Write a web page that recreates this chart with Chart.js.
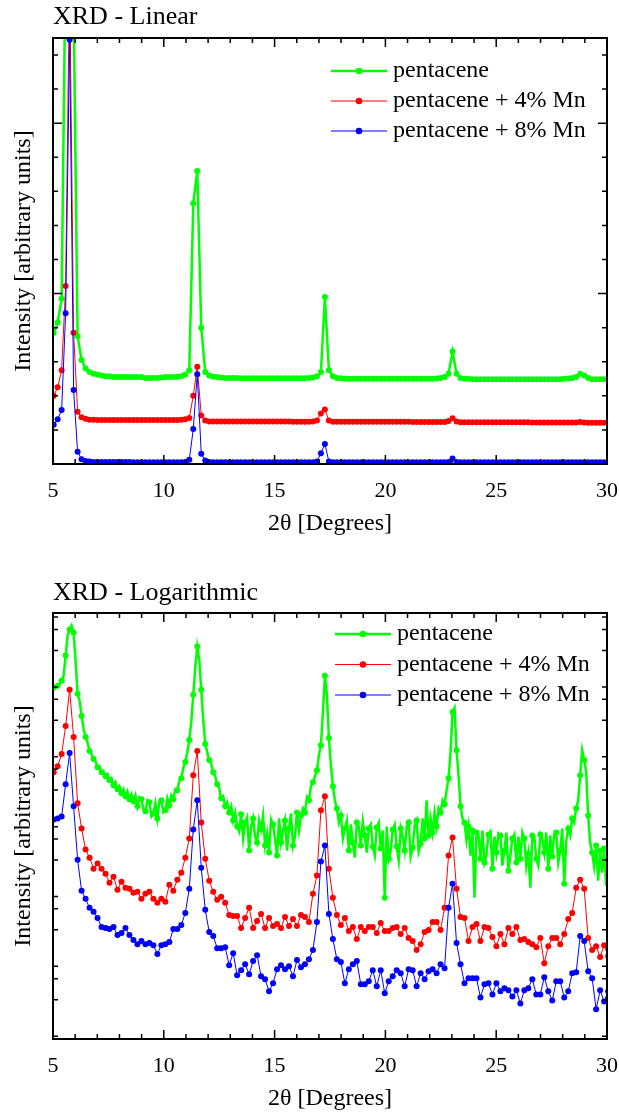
<!DOCTYPE html>
<html lang="en">
<head>
  <meta charset="UTF-8">
  <title>XRD pentacene</title>
  <style>
    html, body { margin: 0; padding: 0; background: #fff; }
    canvas { display: block; }
  </style>
</head>
<body>
  <canvas id="linear" width="619" height="575"></canvas>
  <canvas id="logarithmic" width="619" height="541"></canvas>

  <script src="https://cdn.jsdelivr.net/npm/chart.js"></script>
  <script>
    // 2theta scan grid
    const THETA_START = 5.03;
    const THETA_STEP = 0.18;       // doped scans + pentacene in the linear panel
    const THETA_STEP_FINE = 0.09;  // pentacene in the log panel

    const X_LABELS = [5, 10, 15, 20, 25, 30];
    const X_TITLE = "2θ [Degrees]";
    const Y_TITLE = "Intensity [arbitrary units]";
    const SERIES_NAMES = ["pentacene", "pentacene + 4% Mn", "pentacene + 8% Mn"];

    // linear panel (offset curves, arbitrary units)
    const greenLin = [
      7.7, 8.3, 9.7, 30, 33, 27, 7.5, 6.1, 5.6, 5.4,
      5.3, 5.25, 5.2, 5.15, 5.15, 5.1, 5.1, 5.1, 5.1, 5.1,
      5.1, 5.1, 5.1, 5.05, 5.05, 5.05, 5.05, 5.08, 5.1, 5.1,
      5.1, 5.12, 5.15, 5.25, 5.5, 15.3, 17.2, 8.0, 5.4, 5.2,
      5.12, 5.1, 5.08, 5.05, 5.05, 5.05, 5.05, 5.03, 5.03, 5.03,
      5.03, 5.03, 5.03, 5.03, 5.03, 5.03, 5.03, 5.03, 5.03, 5.03,
      5.03, 5.03, 5.03, 5.03, 5.05, 5.08, 5.15, 5.4, 9.8, 5.5,
      5.15, 5.05, 5.03, 5.0, 5.0, 5.0, 5.0, 5.0, 5.0, 5.0,
      5.0, 5.0, 5.0, 5.0, 5.0, 5.0, 5.0, 5.0, 5.0, 5.0,
      5.0, 5.0, 5.0, 5.0, 5.0, 5.0, 5.02, 5.05, 5.1, 5.3,
      6.6, 5.3, 5.05, 5.0, 5.0, 4.98, 4.98, 4.98, 4.98, 4.98,
      4.98, 4.98, 4.98, 4.98, 4.98, 4.98, 4.98, 4.98, 4.98, 4.98,
      4.98, 4.98, 4.98, 4.98, 4.98, 4.98, 4.98, 4.98, 5.0, 5.02,
      5.05, 5.1, 5.3, 5.2, 5.05, 4.98, 4.98, 4.98, 4.98, 4.98
    ];
    const redLin = [
      4.0, 4.5, 5.5, 10.45, 28.7, 7.7, 3.07, 2.74, 2.65, 2.6,
      2.6, 2.58, 2.58, 2.58, 2.58, 2.58, 2.58, 2.58, 2.58, 2.58,
      2.58, 2.58, 2.58, 2.58, 2.58, 2.58, 2.58, 2.58, 2.58, 2.58,
      2.58, 2.58, 2.6, 2.62, 2.7, 4.0, 5.7, 2.85, 2.55, 2.5,
      2.5, 2.5, 2.5, 2.5, 2.5, 2.5, 2.5, 2.5, 2.5, 2.5,
      2.5, 2.5, 2.5, 2.5, 2.5, 2.5, 2.5, 2.5, 2.5, 2.5,
      2.48, 2.48, 2.48, 2.48, 2.48, 2.5, 2.55, 2.97, 3.2, 2.55,
      2.48, 2.48, 2.48, 2.48, 2.48, 2.48, 2.48, 2.48, 2.48, 2.48,
      2.48, 2.48, 2.48, 2.48, 2.48, 2.48, 2.48, 2.48, 2.48, 2.48,
      2.46, 2.46, 2.46, 2.46, 2.46, 2.46, 2.46, 2.46, 2.46, 2.52,
      2.68, 2.5, 2.45, 2.45, 2.45, 2.45, 2.45, 2.45, 2.45, 2.45,
      2.45, 2.45, 2.45, 2.45, 2.45, 2.45, 2.45, 2.45, 2.45, 2.45,
      2.43, 2.43, 2.43, 2.43, 2.43, 2.43, 2.43, 2.43, 2.43, 2.43,
      2.43, 2.44, 2.46, 2.44, 2.42, 2.42, 2.42, 2.42, 2.42, 2.42
    ];
    const blueLin = [
      2.3, 2.62, 3.17, 8.84, 24.9, 4.34, 0.72, 0.28, 0.18, 0.14,
      0.12, 0.12, 0.12, 0.12, 0.12, 0.12, 0.12, 0.12, 0.12, 0.12,
      0.1, 0.1, 0.1, 0.1, 0.1, 0.1, 0.1, 0.1, 0.1, 0.1,
      0.1, 0.1, 0.1, 0.12, 0.25, 2.05, 5.26, 0.6, 0.2, 0.12,
      0.1, 0.1, 0.1, 0.1, 0.1, 0.1, 0.1, 0.1, 0.1, 0.1,
      0.1, 0.1, 0.1, 0.1, 0.1, 0.1, 0.1, 0.1, 0.1, 0.1,
      0.1, 0.1, 0.1, 0.1, 0.1, 0.1, 0.15, 0.63, 1.17, 0.14,
      0.1, 0.1, 0.1, 0.1, 0.1, 0.1, 0.1, 0.1, 0.1, 0.1,
      0.1, 0.1, 0.1, 0.1, 0.1, 0.1, 0.1, 0.1, 0.1, 0.1,
      0.1, 0.1, 0.1, 0.1, 0.1, 0.1, 0.1, 0.1, 0.1, 0.12,
      0.33, 0.12, 0.1, 0.1, 0.1, 0.1, 0.1, 0.1, 0.1, 0.1,
      0.1, 0.1, 0.1, 0.1, 0.1, 0.1, 0.1, 0.1, 0.1, 0.1,
      0.1, 0.1, 0.1, 0.1, 0.1, 0.1, 0.1, 0.1, 0.1, 0.1,
      0.1, 0.1, 0.1, 0.1, 0.1, 0.1, 0.1, 0.1, 0.1, 0.1
    ];

    // log panel (counts)
    const greenLog = [
      875000, 936000, 936000, 1000000, 1100000, 1300000, 2530000, 4910000, 5980000, 6830000,
      5420000, 2070000, 718000, 569000, 346000, 225000, 173000, 142000, 109000, 98400,
      83400, 78100, 64000, 66100, 54200, 56000, 47400, 50700, 41600, 44400,
      35200, 38900, 30900, 34100, 27000, 30900, 24500, 28900, 22200, 26100,
      20700, 25300, 17600, 23700, 22200, 15900, 14900, 21400, 20100, 12600,
      13900, 19400, 11800, 20700, 21400, 14400, 15400, 22900, 18100, 25300,
      22200, 30900, 29800, 40200, 44400, 61900, 75500, 105000, 157000, 284000,
      695000, 1700000, 3400000, 2210000, 820000, 303000, 137000, 105000, 80700, 70700,
      54200, 47400, 36400, 31900, 22900, 24500, 17600, 20100, 14400, 17600,
      11000, 14400, 9050, 7670, 13500, 6080, 10300, 12200, 4090, 9050,
      11800, 6500, 5330, 11000, 8200, 13000, 4830, 7180, 3830, 11400,
      9670, 6080, 3470, 11800, 5330, 7930, 11000, 4090, 8470, 13900,
      4830, 6500, 14400, 7930, 13000, 16400, 14400, 23700, 21400, 34100,
      38900, 47400, 57900, 95200, 132000, 395000, 1300000, 695000, 167000, 68300,
      34100, 21400, 16400, 10300, 13000, 6080, 8470, 11000, 4090, 9670,
      5330, 3240, 10300, 9050, 4830, 10700, 6720, 3830, 8470, 9670,
      4670, 3470, 8760, 10300, 4370, 7930, 861, 9050, 3130, 4090,
      8200, 9670, 4670, 2940, 8470, 6500, 4090, 9050, 10300, 3350,
      4520, 9360, 11000, 3960, 5150, 11800, 6080, 21400, 6720, 11800,
      7430, 14400, 9050, 16400, 14400, 21400, 18800, 29800, 44400, 105000,
      395000, 452000, 112000, 49000, 17600, 11800, 10300, 5690, 9050, 3470,
      7930, 861, 7430, 6950, 3130, 7930, 2750, 3470, 6950, 7670,
      2250, 6500, 3830, 7180, 6720, 2490, 4090, 7430, 2110, 3470,
      6080, 6950, 2750, 6500, 3130, 7430, 6080, 2410, 3700, 1200,
      6720, 6500, 3130, 2490, 6950, 6080, 3830, 7430, 2250, 6720,
      3350, 7180, 7430, 2750, 4090, 8470, 1370, 5690, 8470, 6720,
      11800, 10300, 16400, 21400, 49000, 112000, 80700, 54200, 13000, 5330,
      3830, 2410, 4830, 1510, 4090, 1970, 4370, 1280, 3130
    ];
    const redLog = [
      54200, 66100, 98400, 249000, 820000, 173000, 19400, 8470, 4230, 3240,
      2250, 2660, 2250, 1910, 1420, 1730, 1120, 1460, 1200, 1160,
      1020, 1050, 833, 983, 1050, 833, 729, 833, 754, 1330,
      1090, 1560, 1970, 3240, 6080, 49000, 109000, 10300, 3130, 1510,
      1050, 806, 890, 729, 490, 474, 474, 318, 444, 619,
      318, 402, 507, 318, 444, 340, 364, 318, 459, 340,
      429, 340, 490, 459, 389, 983, 1790, 15400, 24500, 2250,
      861, 490, 352, 444, 288, 329, 221, 329, 288, 329,
      329, 270, 376, 288, 288, 318, 329, 261, 318, 229,
      207, 154, 187, 279, 298, 389, 389, 298, 619, 3470,
      6290, 1160, 459, 444, 207, 329, 364, 207, 329, 318,
      237, 175, 261, 187, 318, 261, 329, 214, 221, 200,
      187, 169, 229, 100, 175, 229, 229, 187, 261, 429,
      524, 1200, 1560, 1160, 229, 154, 175, 122, 181, 126
    ];
    const blueLog = [
      11400, 11800, 12600, 36400, 102000, 17600, 3030, 1090, 833, 619,
      542, 444, 329, 318, 308, 329, 252, 270, 318, 252,
      214, 187, 207, 187, 194, 181, 135, 181, 187, 200,
      308, 308, 352, 524, 1160, 8200, 21400, 2330, 579, 279,
      244, 164, 164, 169, 93.6, 139, 67.2, 79.3, 96.7, 69.4,
      107, 130, 65.0, 58.8, 39.5, 51.5, 81.9, 93.6, 81.9, 90.5,
      65.0, 111, 87.6, 96.7, 114, 154, 389, 2840, 4830, 507,
      221, 114, 104, 51.5, 81.9, 96.7, 107, 49.8, 49.8, 55.0,
      79.3, 46.6, 79.3, 36.9, 55.0, 65.0, 79.3, 71.8, 46.6, 81.9,
      79.3, 46.6, 71.8, 58.8, 76.7, 81.9, 71.8, 96.7, 84.7, 619,
      1370, 194, 96.7, 51.5, 60.8, 60.8, 60.8, 32.3, 49.8, 51.5,
      35.7, 51.5, 39.5, 43.6, 40.8, 33.4, 40.8, 26.4, 40.8, 43.6,
      58.8, 35.7, 35.7, 62.9, 39.5, 29.2, 55.0, 55.0, 32.3, 39.5,
      71.8, 74.2, 244, 207, 76.7, 60.8, 21.8, 40.8, 28.3, 39.5
    ];

    const LIN_MAX = 25;
    const LOG_MIN = 8.2;
    const LOG_MAX = 1.03e7;
    const LOG_DECADES = [1, 10, 100, 1e3, 1e4, 1e5, 1e6, 1e7];

    const GREEN = "#00ff00";
    const RED = "#ff0000";
    const BLUE = "#0000ff";
    const FONT = '"Liberation Serif", "Times New Roman", serif';

    function toPoints(values, step) {
      return values.map((v, i) => ({ x: THETA_START + i * step, y: v }));
    }

    function logTicks() {
      const out = [];
      LOG_DECADES.forEach(d => {
        for (let k = 1; k <= 9; k++) {
          const v = k * d;
          if (v >= LOG_MIN && v <= LOG_MAX) out.push({ value: v });
        }
      });
      return out;
    }

    // frame, inward ticks on all four sides, texts and the legend
    const xrdFrame = {
      id: "xrdFrame",
      afterDatasetsDraw(chart, args, o) {
        const ctx = chart.ctx;
        const a = chart.chartArea;
        const xs = chart.scales.x;
        const ys = chart.scales.y;
        const isLog = ys.type === "logarithmic";

        ctx.save();
        ctx.strokeStyle = "#000";
        ctx.lineWidth = 1.5;
        ctx.beginPath();
        xs.ticks.forEach(t => {
          const px = xs.getPixelForValue(t.value);
          const len = X_LABELS.includes(t.value) ? 9 : 5;
          ctx.moveTo(px, a.bottom); ctx.lineTo(px, a.bottom - len);
          ctx.moveTo(px, a.top); ctx.lineTo(px, a.top + len);
        });
        ys.ticks.forEach(t => {
          const py = ys.getPixelForValue(t.value);
          let major;
          if (isLog) {
            const l = Math.log10(t.value);
            major = Math.abs(l - Math.round(l)) < 1e-6;
          } else {
            major = t.value % 5 === 0;
          }
          const len = major ? 9 : 5;
          ctx.moveTo(a.left, py); ctx.lineTo(a.left + len, py);
          ctx.moveTo(a.right, py); ctx.lineTo(a.right - len, py);
        });
        ctx.stroke();

        ctx.lineWidth = 2;
        ctx.strokeRect(a.left, a.top, a.right - a.left, a.bottom - a.top);

        // tick labels + axis titles
        ctx.fillStyle = "#000";
        ctx.textAlign = "center";
        ctx.textBaseline = "alphabetic";
        ctx.font = "22px " + FONT;
        X_LABELS.forEach(v => ctx.fillText(String(v), xs.getPixelForValue(v), a.bottom + 33));
        ctx.font = "24px " + FONT;
        ctx.fillText(X_TITLE, (a.left + a.right) / 2, a.bottom + 66);

        ctx.save();
        ctx.translate(24, (a.top + a.bottom) / 2);
        ctx.rotate(-Math.PI / 2);
        ctx.textBaseline = "middle";
        ctx.fillText(Y_TITLE, 0, 0);
        ctx.restore();

        // panel title
        ctx.textAlign = "left";
        ctx.font = "26px " + FONT;
        ctx.fillText(o.title, a.left, o.titleY);

        // legend
        chart.data.datasets.forEach((ds, i) => {
          const y = o.legendY + i * o.legendGap;
          ctx.strokeStyle = ds.borderColor;
          ctx.lineWidth = ds.borderWidth;
          ctx.beginPath();
          ctx.moveTo(o.legendX, y);
          ctx.lineTo(o.legendX + 56, y);
          ctx.stroke();
          ctx.fillStyle = ds.borderColor;
          ctx.beginPath();
          ctx.arc(o.legendX + 28, y, 3.3, 0, Math.PI * 2);
          ctx.fill();
          ctx.fillStyle = "#000";
          ctx.font = "24px " + FONT;
          ctx.fillText(ds.label, o.legendX + 62, y + 6);
        });
        ctx.restore();
      }
    };

    function series(label, color, width, data, order, radius) {
      return {
        label: label,
        data: data,
        borderColor: color,
        backgroundColor: color,
        pointBackgroundColor: color,
        pointBorderWidth: 0,
        borderWidth: width,
        pointRadius: radius,
        pointHoverRadius: 0,
        order: order,
        clip: 0
      };
    }

    function baseOptions(yScale, bottomPad, frameOpts) {
      return {
        responsive: false,
        animation: false,
        events: [],
        layout: { padding: { left: 53, right: 12, top: 38, bottom: bottomPad } },
        plugins: {
          legend: { display: false },
          title: { display: false },
          tooltip: { enabled: false },
          xrdFrame: frameOpts
        },
        scales: {
          x: {
            type: "linear", min: 5, max: 30, display: false,
            afterBuildTicks: s => {
              const t = [];
              for (let v = 5; v <= 30; v++) t.push({ value: v });
              s.ticks = t;
            }
          },
          y: yScale
        }
      };
    }

    new Chart(document.getElementById("linear"), {
      type: "line",
      data: {
        datasets: [
          series(SERIES_NAMES[0], GREEN, 2.5, toPoints(greenLin, THETA_STEP), 3, 3),
          series(SERIES_NAMES[1], RED, 1, toPoints(redLin, THETA_STEP), 2, 3),
          series(SERIES_NAMES[2], BLUE, 1, toPoints(blueLin, THETA_STEP), 1, 3)
        ]
      },
      options: baseOptions({
        type: "linear", min: 0, max: LIN_MAX, display: false,
        afterBuildTicks: s => {
          const t = [];
          for (let v = 0; v <= LIN_MAX; v++) t.push({ value: v });
          s.ticks = t;
        }
      }, 111, { title: "XRD - Linear", titleY: 23.5, legendX: 331, legendY: 71, legendGap: 30 }),
      plugins: [xrdFrame]
    });

    const greenLogSet = series(SERIES_NAMES[0], GREEN, 2.5, toPoints(greenLog, THETA_STEP_FINE), 3, 3);
    greenLogSet.pointRadius = ctx => (ctx.dataIndex % 2 === 0 ? 3 : 0);

    new Chart(document.getElementById("logarithmic"), {
      type: "line",
      data: {
        datasets: [
          greenLogSet,
          series(SERIES_NAMES[1], RED, 1, toPoints(redLog, THETA_STEP), 2, 3),
          series(SERIES_NAMES[2], BLUE, 1, toPoints(blueLog, THETA_STEP), 1, 3)
        ]
      },
      options: baseOptions({
        type: "logarithmic", min: LOG_MIN, max: LOG_MAX, display: false,
        afterBuildTicks: s => { s.ticks = logTicks(); }
      }, 77, { title: "XRD - Logarithmic", titleY: 25, legendX: 335, legendY: 59, legendGap: 30.5 }),
      plugins: [xrdFrame]
    });
  </script>
</body>
</html>
